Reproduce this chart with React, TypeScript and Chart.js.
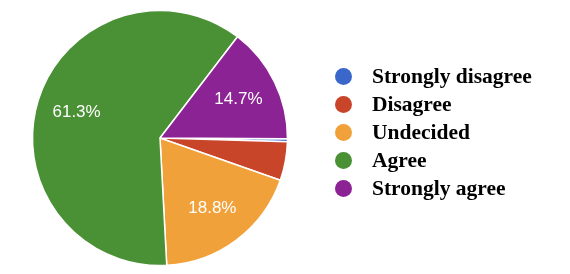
import React, { useEffect, useRef } from "react";
import { Chart, registerables } from "chart.js";

Chart.register(...registerables);

const categories = ["Strongly disagree", "Disagree", "Undecided", "Agree", "Strongly agree"];
const percentages = [0.4, 4.9, 18.8, 61.3, 14.7];
const colors = ["#3b67cb", "#c9452a", "#f1a13a", "#4a9034", "#8c2394"];

const sliceLabels = {
  id: "sliceLabels",
  afterDatasetsDraw(chart: any) {
    const ctx = chart.ctx;
    const meta = chart.getDatasetMeta(0);
    const data = chart.data.datasets[0].data as number[];
    ctx.save();
    ctx.fillStyle = "#ffffff";
    ctx.font = '17px "Liberation Sans", Arial, sans-serif';
    ctx.textAlign = "center";
    ctx.textBaseline = "middle";
    meta.data.forEach((arc: any, i: number) => {
      const v = data[i];
      if (v < 8) return;
      const { x, y, startAngle, endAngle, outerRadius } = arc.getProps(
        ["x", "y", "startAngle", "endAngle", "outerRadius"],
        true
      );
      const mid = (startAngle + endAngle) / 2;
      const r = outerRadius * 0.685;
      ctx.fillText(v.toFixed(1) + "%", x + Math.cos(mid) * r, y + Math.sin(mid) * r);
    });
    ctx.restore();
  },
};

export default function App() {
  const ref = useRef<HTMLCanvasElement | null>(null);
  useEffect(() => {
    if (!ref.current) return;
    const chart = new Chart(ref.current, {
      type: "pie",
      data: {
        labels: categories,
        datasets: [
          {
            data: percentages,
            backgroundColor: colors,
            borderColor: "#ffffff",
            borderWidth: 1.5,
          },
        ],
      },
      options: {
        responsive: false,
        animation: false,
        events: [],
        rotation: 90.3,
        radius: 127.5,
        layout: { padding: { left: 30, right: 280, top: 8, bottom: 6 } },
        plugins: {
          legend: { display: false },
          tooltip: { enabled: false },
        },
      },
      plugins: [sliceLabels],
    });
    return () => chart.destroy();
  }, []);

  return (
    <div style={{ position: "fixed", left: 0, top: 0, width: 570, height: 274, background: "#fff" }}>
      <canvas ref={ref} width={570} height={274} style={{ position: "absolute", left: 0, top: 0 }} />
      <div style={{ position: "absolute", left: 335, top: 62 }}>
        {categories.map((c, i) => (
          <div
            key={c}
            style={{
              display: "flex",
              alignItems: "center",
              height: 28,
              whiteSpace: "nowrap",
            }}
          >
            <span
              style={{
                display: "inline-block",
                width: 17,
                height: 17,
                borderRadius: "50%",
                background: colors[i],
                marginRight: 20,
              }}
            />
            <span
              style={{
                fontFamily: '"Liberation Serif", "Times New Roman", serif',
                fontWeight: "bold",
                fontSize: 21.5,
                lineHeight: "28px",
                color: "#000",
              }}
            >
              {c}
            </span>
          </div>
        ))}
      </div>
    </div>
  );
}
